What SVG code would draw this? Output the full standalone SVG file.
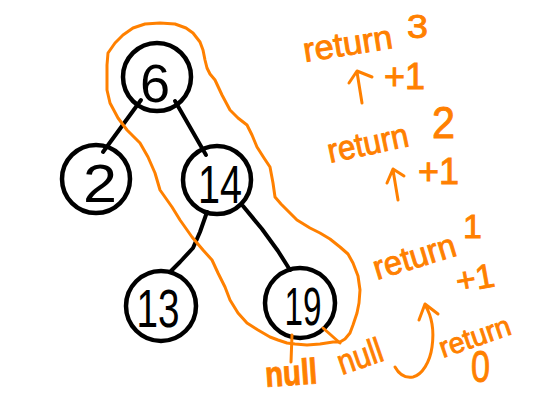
<svg xmlns="http://www.w3.org/2000/svg" width="550" height="400" viewBox="0 0 550 400">
<style>
.node circle{fill:none;stroke:#000;stroke-width:4.5}
.node text{font-family:"Liberation Sans",Arial,sans-serif;font-size:54px;fill:#000;text-anchor:middle}
.edge{fill:none;stroke:#000;stroke-width:4;stroke-linecap:round;stroke-linejoin:round}
.o{fill:none;stroke:#ff8000;stroke-width:3;stroke-linecap:round;stroke-linejoin:round}
.ot{font-family:"Liberation Sans",Arial,sans-serif;fill:#ff8000;stroke:#ff8000;stroke-width:0.9}
</style>
<rect width="550" height="400" fill="#fff"/>
<g id="connectors">
<path class="edge" d="M141,100 L103,152"/>
<path class="edge" d="M175,101 L206,155"/>
<path class="edge" d="M207,212 L200,232 L193,248 L180,262 L170,272"/>
<path class="edge" d="M243,206 L262,229 L278,251 L290,270"/>
</g>
<g id="node-6" class="node"><circle cx="157" cy="77" r="34"/><text x="155" y="102">6</text></g>
<g id="node-2" class="node"><circle cx="96" cy="179" r="34"/><text x="100" y="202" textLength="34" lengthAdjust="spacingAndGlyphs">2</text></g>
<g id="node-14" class="node"><circle cx="217" cy="180" r="34"/><text x="220" y="203" textLength="44" lengthAdjust="spacingAndGlyphs">14</text></g>
<g id="node-13" class="node"><circle cx="161" cy="306" r="35"/><text x="158" y="327" textLength="43" lengthAdjust="spacingAndGlyphs">13</text></g>
<g id="node-19" class="node"><circle cx="300" cy="303" r="35"/><text x="303" y="325" textLength="37" lengthAdjust="spacingAndGlyphs">19</text></g>
<g id="annotations">
<polyline class="o" points="123,35 133,28 145,24 160,23 175,24 186,28 193,33 200,42 203,50 205,60 207,68 210,74 215,80 222,95 230,110 238,118 247,125 252,135 257,147 264,158 270,167 273,183 275,197 281,204 287,210 297,220 310,228 320,233 330,239 340,247 348,254 353,263 358,276 360,290 359,303 357,313 353,325 350,333 345,339 340,342 333,342 320,344 307,345 295,344 287,343 278,340 270,337 258,330 247,323 238,313 230,300 225,287 218,273 212,260 203,250 192,237 180,220 172,207 160,190 155,173 148,157 140,143 127,130 118,118 110,103 107,90 107,77 107,65 108,53 115,43 123,35"/>
<path class="o" d="M292,335 L291,362" stroke-width="5"/>
<path class="o" d="M323,328 L340,343" stroke-width="4"/>
<text class="ot" x="305" y="62" font-size="34" textLength="90" lengthAdjust="spacingAndGlyphs" transform="rotate(-9 305 62)">return</text>
<text class="ot" x="407" y="38" font-size="34" textLength="21" lengthAdjust="spacingAndGlyphs">3</text>
<path class="o" d="M362,103 L357,72 M349,83 L357,71 L372,77" stroke-width="3.5"/>
<text class="ot" x="384" y="89" font-size="36">+1</text>
<text class="ot" x="330" y="163" font-size="34" textLength="82" lengthAdjust="spacingAndGlyphs" transform="rotate(-12 330 163)">return</text>
<text class="ot" x="432" y="138" font-size="44" textLength="23" lengthAdjust="spacingAndGlyphs">2</text>
<path class="o" d="M398,200 L393,170 M387,183 L393,169 L404,176" stroke-width="3.5"/>
<text class="ot" x="418" y="184" font-size="36">+1</text>
<text class="ot" x="377" y="280" font-size="34" textLength="85" lengthAdjust="spacingAndGlyphs" transform="rotate(-17 377 280)">return</text>
<text class="ot" x="463" y="238" font-size="34">1</text>
<text class="ot" x="458" y="293" font-size="34" transform="rotate(-10 458 293)">+1</text>
<path class="o" d="M395,367 C400,376 407,378 413,377 C422,375 430,362 432,347 C434,333 433,318 425,305 M419,320 L425,304 L438,314" stroke-width="3.5"/>
<text class="ot" x="443" y="358" font-size="29" textLength="74" lengthAdjust="spacingAndGlyphs" transform="rotate(-19 443 358)">return</text>
<text class="ot" x="471" y="382" font-size="44" textLength="19" lengthAdjust="spacingAndGlyphs">0</text>
<text class="ot" x="266" y="387" font-size="36" font-weight="bold" textLength="52" lengthAdjust="spacingAndGlyphs" transform="rotate(-4 266 387)">null</text>
<text class="ot" x="342" y="375" font-size="35" textLength="46" lengthAdjust="spacingAndGlyphs" transform="rotate(-19 342 375)">null</text>
</g>
</svg>
